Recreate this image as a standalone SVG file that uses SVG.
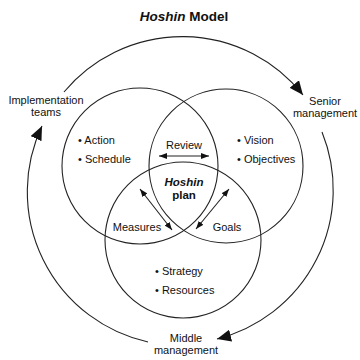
<svg xmlns="http://www.w3.org/2000/svg" width="360" height="360" viewBox="0 0 360 360">
<defs>
<marker id="big" markerUnits="userSpaceOnUse" markerWidth="14" markerHeight="12" refX="14" refY="6" orient="auto" viewBox="0 0 14 12"><path d="M0,0 L14,6 L0,12 z" fill="#111"/></marker>
<marker id="small" markerUnits="userSpaceOnUse" markerWidth="8" markerHeight="6" refX="8" refY="3" orient="auto-start-reverse" viewBox="0 0 8 6"><path d="M0,0 L8,3 L0,6 z" fill="#111"/></marker>
<style>
text{font-family:"Liberation Sans",Arial,Helvetica,sans-serif;fill:#111;font-size:11px}
.c{fill:none;stroke:#222;stroke-width:1.1}
.a{fill:none;stroke:#222;stroke-width:1.1}
.t{font-size:13.5px;font-weight:bold}
.b{font-weight:bold;font-size:11.5px}
.m{text-anchor:middle}
</style>
</defs>
<rect width="360" height="360" fill="#fff"/>
<text class="t m" x="184" y="21"><tspan font-style="italic">Hoshin</tspan> Model</text>
<g id="connectors">
<path class="a" d="M64,92 A154,154 0 0 1 303,95" marker-end="url(#big)"/>
<path class="a" d="M322,132 A154,154 0 0 1 217,339" marker-end="url(#big)"/>
<path class="a" d="M148,342 A154,154 0 0 1 42,126" marker-end="url(#big)"/>
<line class="a" x1="159" y1="156" x2="209" y2="156" marker-start="url(#small)" marker-end="url(#small)"/>
<line class="a" x1="140" y1="189" x2="172" y2="230" marker-start="url(#small)" marker-end="url(#small)"/>
<line class="a" x1="229" y1="189" x2="196" y2="229" marker-start="url(#small)" marker-end="url(#small)"/>
</g>
<g id="left-circle">
<circle class="c" cx="140" cy="166" r="78"/>
<text x="78" y="144">• Action</text>
<text x="78" y="163">• Schedule</text>
</g>
<g id="right-circle">
<circle class="c" cx="226" cy="166" r="77"/>
<text x="237" y="144">• Vision</text>
<text x="237" y="163">• Objectives</text>
</g>
<g id="bottom-circle">
<circle class="c" cx="183" cy="240" r="78"/>
<text x="155" y="275">• Strategy</text>
<text x="155" y="294">• Resources</text>
</g>
<g id="center">
<text class="m" x="184" y="149">Review</text>
<text class="b m" x="184" y="186" font-style="italic">Hoshin</text>
<text class="b m" x="184" y="199">plan</text>
<text class="m" x="137" y="231">Measures</text>
<text class="m" x="227" y="231">Goals</text>
</g>
<g id="implementation-teams">
<text class="m" x="46" y="104">Implementation</text>
<text class="m" x="46" y="116">teams</text>
</g>
<g id="senior-management">
<text class="m" x="325" y="105">Senior</text>
<text class="m" x="325" y="117">management</text>
</g>
<g id="middle-management">
<text class="m" x="186" y="342">Middle</text>
<text class="m" x="186" y="354">management</text>
</g>
</svg>
